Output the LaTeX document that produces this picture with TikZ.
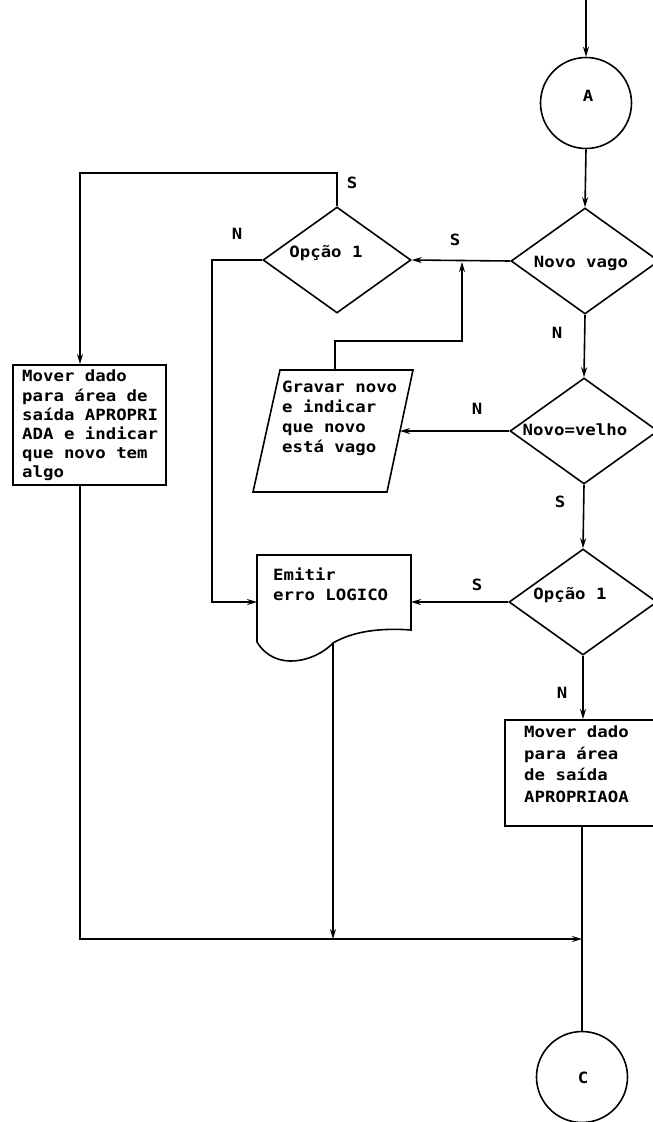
\documentclass[tikz,border=0pt]{standalone}
\usepackage{fontspec}
\usetikzlibrary{shapes.geometric,arrows.meta}
\newfontfamily\tw[FakeStretch=1.12]{DejaVu Sans Mono}
\newcommand\twfont[1]{\tw\bfseries\fontsize{15.5}{#1}\selectfont\lineskiplimit=-50pt\relax}
\begin{document}
\begin{tikzpicture}[x=1pt,y=-1pt,
  line/.style={line width=1.6pt},
  arr/.style={line, -{Stealth[length=10pt,width=6pt]}},
  txt/.style={font=\twfont{20}, inner sep=0pt, align=left},
  lbl/.style={font=\tw\bfseries\fontsize{15.5}{16}\selectfont, inner sep=0pt},
  dec/.style={diamond, draw, line, minimum width=148pt, minimum height=106pt, inner sep=0pt},
  conn/.style={circle, draw, line, minimum size=91pt, inner sep=0pt},
  procbox/.style={rectangle, draw, line, inner sep=0pt}]
\useasboundingbox (0,0) rectangle (653,1122);
\fill[white] (0,0) rectangle (653,1122);
\clip (0,0) rectangle (653,1122);

% connectors / shapes
\coordinate (start) at (586,0);
\node[conn] (A) at (586,103) {};
\node[txt] (Atxt) at (588,96) {A};

\node[dec] (nv) at (585,261) {};
\node[txt] (nvtxt) at (581,263) {Novo vago};

\node[dec] (op1) at (337,260) {};
\node[txt] (op1txt) at (326,253) {Opção 1};

\node[dec] (nvl) at (584,431) {};
\node[txt] (nvltxt) at (575,430) {Novo=velho};

\node[dec] (op2) at (583,602) {};
\node[txt] (op2txt) at (570,595) {Opção 1};

% left process box
\node[procbox, anchor=north west, minimum width=153pt, minimum height=120pt] (lbox) at (12,364) {};
\node[txt, anchor=north west, font=\twfont{19.2}] (lboxtxt) at (22,370)
  {Mover dado\\para área de\\saída APROPRI\\ADA e indicar\\que novo tem\\algo};
\coordinate (lbin) at (80,364);
\coordinate (lbout) at (80,484);

% right process box
\node[procbox, anchor=north west, minimum width=200pt, minimum height=106pt] (rbox) at (504,719) {};
\node[txt, anchor=north west, font=\twfont{21.5}] (rboxtxt) at (524,726)
  {Mover dado\\para área\\de saída\\APROPRIAOA};

% parallelogram
\draw[line] (280,370) -- (413,370) -- (387,492) -- (253,492) -- cycle;
\node[txt, anchor=north west] (gv) at (282,381) {Gravar novo\\e indicar\\que novo\\está vago};
\coordinate (gvtop) at (335,370);
\coordinate (gvright) at (400,431);
\coordinate (bend1) at (335,341);
\coordinate (j1) at (462,262);

% document shape
\draw[line] (257,642) -- (257,555) -- (411,555) -- (411,630)
  .. controls (385,628) and (355,630) .. (333,643)
  .. controls (315,662) and (275,672) .. (257,642);
\node[txt, anchor=north west] (em) at (273,568) {Emitir\\erro LOGICO};
\coordinate (emW) at (257,602);
\coordinate (emE) at (411,602);
\coordinate (emS) at (333,643);

% terminator C
\node[conn] (C) at (582,1077) {};
\node[txt] (Ctxt) at (583,1078) {C};

\coordinate (tl2) at (80,173);
\coordinate (lf) at (212,602);
\coordinate (jm) at (582,939);

\draw[arr] (start) -- (A.north);
\draw[arr] (A.south) -- (nv.north);
\draw[arr] (nv.west) -- (op1.east);
\draw[arr] (gvtop) -- (bend1) -| (j1);
\draw[arr] (nv.south) -- (nvl.north);
\draw[arr] (nvl.west) -- (gvright);
\draw[arr] (nvl.south) -- (op2.north);
\draw[arr] (op2.west) -- (emE);
\draw[arr] (op2.south) -- (op2.south |- rbox.north);
\draw[arr] (op1.north) |- (tl2) -- (lbin);
\draw[arr] (op1.west) -| (lf) -- (emW);
\draw[arr] (lbout) |- (jm);
\draw[arr] (emS) -- (emS |- jm);
\draw[line] (C.north |- rbox.south) -- (C.north);

% branch labels
\node[lbl] (s1) at (352,183) {S};
\node[lbl] (n1) at (237,234) {N};
\node[lbl] (s2) at (455,240) {S};
\node[lbl] (n2) at (557,333) {N};
\node[lbl] (n3) at (477,409) {N};
\node[lbl] (s3) at (560,502) {S};
\node[lbl] (s4) at (477,585) {S};
\node[lbl] (n4) at (562,693) {N};
\end{tikzpicture}
\end{document}
